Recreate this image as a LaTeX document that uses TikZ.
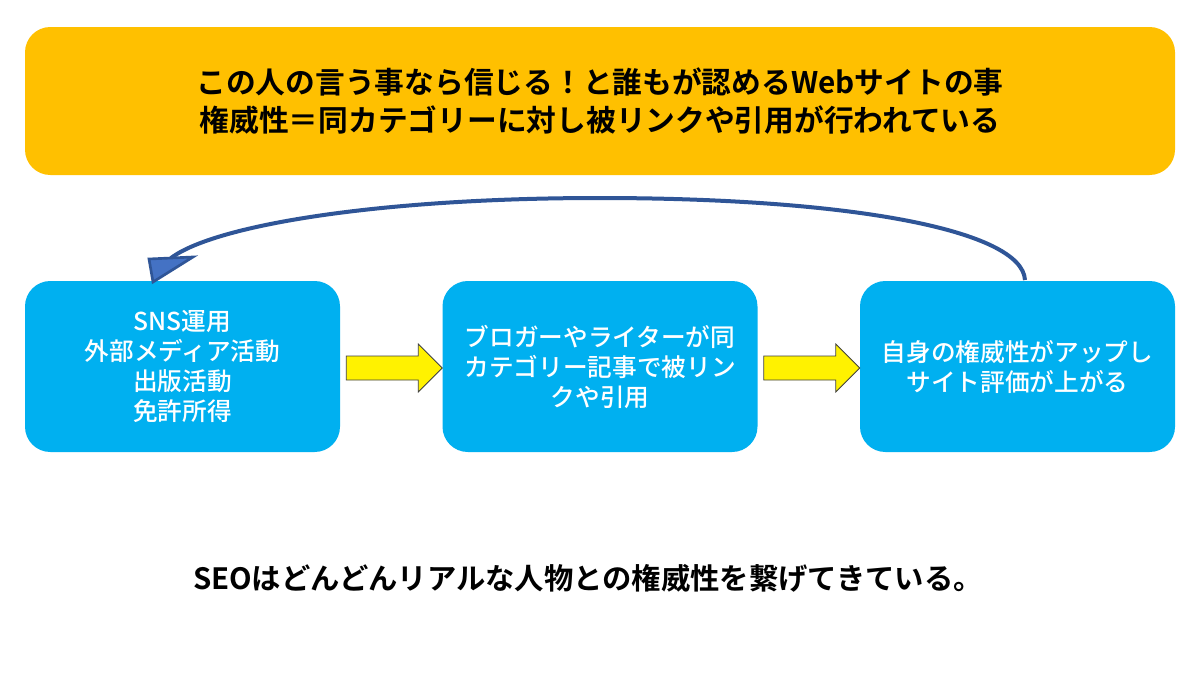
\documentclass[tikz,border=0pt]{standalone}
\usepackage{fontspec}
\setmainfont{Noto Sans CJK JP}[BoldFont={Noto Sans CJK JP Bold}]
\newfontfamily\boxfont{Noto Sans CJK JP Medium}
\usetikzlibrary{calc}
\definecolor{topfill}{HTML}{FFC000}
\definecolor{boxfill}{HTML}{00B0F0}
\definecolor{curveblue}{HTML}{2F5597}
\definecolor{headblue}{HTML}{4472C4}
\definecolor{yarrowline}{HTML}{404040}
\tikzset{
  topbox/.style={fill=topfill, rounded corners=19pt, minimum width=862.5pt, minimum height=111pt, align=center, inner sep=0pt,
    font=\bfseries\fontsize{22.3}{28.5}\selectfont},
  flowbox/.style={fill=boxfill, rounded corners=19pt, minimum width=236.25pt, minimum height=128.25pt, align=center, inner sep=0pt,
    text=white, font=\boxfont\fontsize{18.5}{22.5}\selectfont},
  yarrow/.style={fill=yellow, draw=yarrowline, line width=0.6pt, line join=miter},
  backarrow/.style={draw=curveblue, line width=3pt},
  backhead/.style={fill=headblue, draw=curveblue, line width=2pt, line join=miter},
  caption/.style={font=\bfseries\fontsize{22}{26}\selectfont, inner sep=0pt}
}
\begin{document}
\begin{tikzpicture}[x=0.75pt,y=-0.75pt]
\useasboundingbox[fill=white] (0,0) rectangle (1200,675);
\node[topbox] (top) at (600,101) {この人の言う事なら信じる！と誰もが認めるWebサイトの事\\権威性＝同カテゴリーに対し被リンクや引用が行われている};
\node[flowbox] (b1) at (182.5,366.5) {SNS運用\\外部メディア活動\\出版活動\\免許所得};
\node[flowbox] (b2) at (600,366.5) {ブロガーやライターが同\\カテゴリー記事で被リン\\クや引用};
\node[flowbox] (b3) at (1017.5,366.5) {自身の権威性がアップし\\サイト評価が上がる};
\coordinate (m1) at ($(b1.east)!0.5!(b2.west)+(3,1.5)$);
\coordinate (m2) at ($(b2.east)!0.5!(b3.west)+(3,1.5)$);
\foreach \m in {m1,m2}{
  \draw[yarrow] ($(\m)+(-48,-12)$) -- ($(\m)+(24,-12)$) -- ($(\m)+(24,-24)$) -- ($(\m)+(48,0)$)
    -- ($(\m)+(24,24)$) -- ($(\m)+(24,12)$) -- ($(\m)+(-48,12)$) -- cycle;
}
\coordinate (cs) at (1025,280);
\coordinate (cp) at (599,198);
\coordinate (ce) at (153,282);
\coordinate (cb) at ($(ce)+(18,-24)$);
\draw[backarrow] (cs) .. controls (1022,230) and (850,198) .. (cp) .. controls (380,198) and (215,225) .. (cb);
\draw[backhead] (ce) -- ($(ce)+(-4,-23)$) -- ($(ce)+(40,-25)$) -- cycle;
\node[caption] (cap) at (588,578) {SEOはどんどんリアルな人物との権威性を繋げてきている。};
\end{tikzpicture}
\end{document}
